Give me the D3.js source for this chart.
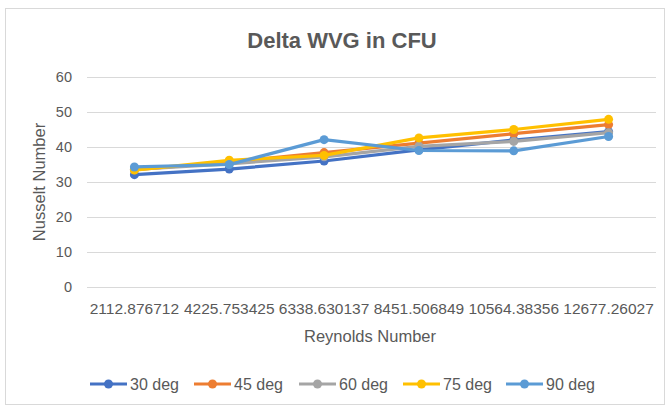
<!DOCTYPE html>
<html><head><meta charset="utf-8">
<script src="https://cdn.jsdelivr.net/npm/d3@7"></script>
<style>body{margin:0;background:#fff;} text{font-family:"Liberation Sans",Arial,sans-serif;fill:#595959;}</style>
</head><body>
<svg id="c" width="668" height="409"></svg>
<script>
const categories = ["2112.876712","4225.753425","6338.630137","8451.506849","10564.38356","12677.26027"];
const seriesNames = ["30 deg","45 deg","60 deg","75 deg","90 deg"];
const deg30 = [32.1, 33.7, 36.0, 39.2, 42.0, 44.4];
const deg45 = [33.5, 35.7, 38.4, 41.1, 43.8, 46.4];
const deg60 = [33.6, 35.2, 37.2, 40.2, 41.6, 44.1];
const deg75 = [33.4, 36.2, 37.6, 42.6, 45.0, 47.9];
const deg90 = [34.3, 35.0, 42.1, 39.0, 38.9, 43.0];
const yTicks = [0,10,20,30,40,50,60];
const colors = ["#4472C4","#ED7D31","#A5A5A5","#FFC000","#5B9BD5"];
const series = [deg30,deg45,deg60,deg75,deg90];

const svg = d3.select("#c");
svg.append("rect").attr("x",5.5).attr("y",8.5).attr("width",659).attr("height",396)
  .attr("fill","#fff").attr("stroke","#d9d9d9");

const x = d3.scaleBand().domain(categories).range([87,656]);
const y = d3.scaleLinear().domain([0,60]).range([287,77]);

svg.append("text").attr("x",342).attr("y",48).attr("text-anchor","middle")
  .style("font-size","22px").style("font-weight","bold").text("Delta WVG in CFU");

const gy = svg.append("g").attr("transform","translate(87,0)")
  .call(d3.axisLeft(y).tickValues(yTicks).tickSize(-569).tickPadding(15));
gy.select(".domain").remove();
gy.selectAll("line").attr("stroke","#d9d9d9");
gy.selectAll("text").style("font-size","14.5px").style("fill","#595959");

const gx = svg.append("g").attr("transform","translate(0,287)")
  .call(d3.axisBottom(x).tickSize(0).tickPadding(16));
gx.select(".domain").remove();
gx.selectAll("text").style("font-size","15.5px").style("fill","#595959");

svg.append("text").attr("x",370).attr("y",342).attr("text-anchor","middle")
  .style("font-size","16.5px").text("Reynolds Number");
svg.append("text").attr("transform","translate(45,182) rotate(-90)").attr("text-anchor","middle")
  .style("font-size","16.5px").text("Nusselt Number");

const line = d3.line().x((d,i)=>x(categories[i])+x.bandwidth()/2).y(d=>y(d));
series.forEach((s,k)=>{
  const g = svg.append("g");
  g.append("path").datum(s).attr("d",line).attr("fill","none")
    .attr("stroke",colors[k]).attr("stroke-width",3.2).attr("stroke-linejoin","round");
  g.selectAll("circle").data(s).enter().append("circle")
    .attr("cx",(d,i)=>x(categories[i])+x.bandwidth()/2).attr("cy",d=>y(d)).attr("r",4.5)
    .attr("fill",colors[k]);
});

const legX = [90,194,299,403,506];
seriesNames.forEach((n,k)=>{
  const g = svg.append("g").attr("transform",`translate(${legX[k]},384)`);
  g.append("line").attr("x1",0).attr("x2",37).attr("stroke",colors[k]).attr("stroke-width",3.2);
  g.append("circle").attr("cx",18.5).attr("r",4.5).attr("fill",colors[k]);
  g.append("text").attr("x",40).attr("y",5.5).style("font-size","16px").text(n);
});
</script>
</body></html>
